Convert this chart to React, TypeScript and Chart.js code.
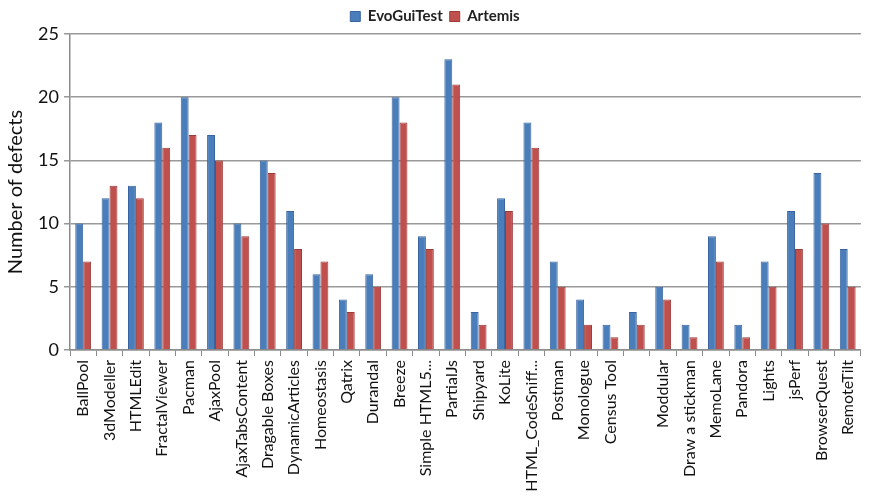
import React, { useEffect, useRef } from "react";
import { Chart, registerables } from "chart.js";

Chart.register(...registerables);

const categories = [
  "BallPool", "3dModeller", "HTMLEdit", "FractalViewer", "Pacman", "AjaxPool",
  "AjaxTabsContent", "Dragable Boxes", "DynamicArticles", "Homeostasis", "Qatrix",
  "Durandal", "Breeze", "Simple HTML5...", "PartialJs", "Shipyard", "KoLite",
  "HTML_CodeSniff...", "Postman", "Monologue", "Census Tool", "", "Moddular",
  "Draw a stickman", "MemoLane", "Pandora", "Lights", "jsPerf", "BrowserQuest", "RemoteTilt",
];

const evoGuiTest = [10, 12, 13, 18, 20, 17, 10, 15, 11, 6, 4, 6, 20, 9, 23, 3, 12, 18, 7, 4, 2, 3, 5, 2, 9, 2, 7, 11, 14, 8];
const artemis = [7, 13, 12, 16, 17, 15, 9, 14, 8, 7, 3, 5, 18, 8, 21, 2, 11, 16, 5, 2, 1, 2, 4, 1, 7, 1, 5, 8, 10, 5];

const yTicks = [0, 5, 10, 15, 20, 25];

const FONT = "Lato, 'Open Sans', sans-serif";

export default function App() {
  const ref = useRef<HTMLCanvasElement | null>(null);

  useEffect(() => {
    const canvas = ref.current;
    if (!canvas) return;
    const chart = new Chart(canvas, {
      type: "bar",
      data: {
        labels: categories,
        datasets: [
          {
            label: "EvoGuiTest",
            data: evoGuiTest,
            backgroundColor: "#4a7ebb",
            borderColor: "#3a64a0",
            borderWidth: 1,
            categoryPercentage: 0.6,
            barPercentage: 1,
          },
          {
            label: "Artemis",
            data: artemis,
            backgroundColor: "#c0504d",
            borderColor: "#9c3c3a",
            borderWidth: 1,
            categoryPercentage: 0.6,
            barPercentage: 1,
          },
        ],
      },
      options: {
        animation: false,
        responsive: false,
        maintainAspectRatio: false,
        layout: { padding: { top: 2, right: 5, left: 4, bottom: 0 } },
        plugins: {
          legend: {
            position: "top",
            labels: {
              boxWidth: 10,
              boxHeight: 10,
              padding: 7,
              color: "#222",
              font: { family: FONT, size: 15, weight: "bold" },
            },
          },
          tooltip: { enabled: false },
        },
        scales: {
          x: {
            offset: true,
            grid: {
              display: true,
              drawOnChartArea: false,
              offset: true,
              tickLength: 6,
              color: "#8c8c8c",
            },
            border: { color: "#8c8c8c", width: 1.5 },
            ticks: {
              autoSkip: false,
              maxRotation: 90,
              minRotation: 90,
              color: "#111",
              font: { family: FONT, size: 16 },
              padding: 4,
            },
            afterFit: (scale: any) => {
              scale.height = 146;
            },
          },
          y: {
            min: 0,
            max: 25,
            afterBuildTicks: (scale: any) => {
              scale.ticks = yTicks.map((v) => ({ value: v }));
            },
            grid: { color: "#999", lineWidth: 1.5, tickLength: 6 },
            border: { color: "#8c8c8c", width: 1.5 },
            ticks: {
              color: "#111",
              font: { family: FONT, size: 18 },
              padding: 5,
            },
            title: {
              display: true,
              text: "Number of defects",
              color: "#111",
              font: { family: FONT, size: 20 },
              padding: { top: 0, bottom: 2 },
            },
            afterFit: (scale: any) => {
              scale.width = 66;
            },
          },
        },
      },
    });
    return () => chart.destroy();
  }, []);

  return (
    <div style={{ position: "fixed", left: 0, top: 0, width: 871, height: 496, background: "#fff" }}>
      <canvas ref={ref} width={871} height={496} style={{ width: 871, height: 496 }} />
    </div>
  );
}
